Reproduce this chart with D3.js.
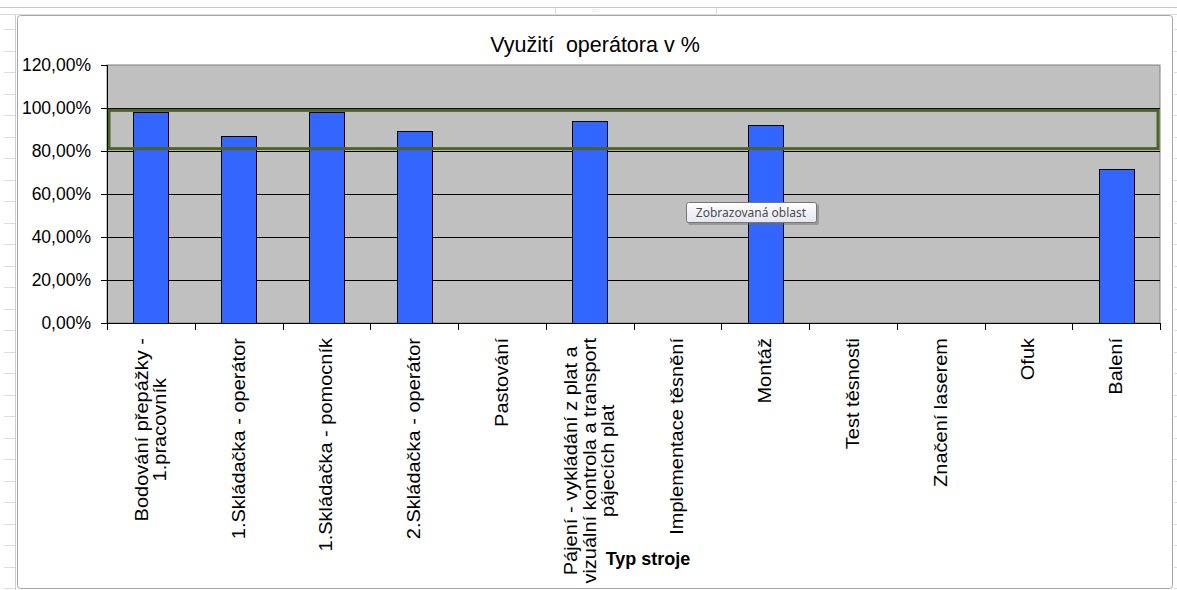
<!DOCTYPE html>
<html>
<head>
<meta charset="utf-8">
<script src="https://cdn.jsdelivr.net/npm/d3@7"></script>
<style>
  body { margin: 0; background: #fff; }
  svg { display: block; font-family: "Liberation Sans", Arial, sans-serif; }
</style>
</head>
<body>
<div id="chart"></div>
<script>
// data
var categories = [
  ["Bodování přepážky -", "1.pracovník"],
  ["1.Skládačka - operátor"],
  ["1.Skládačka - pomocník"],
  ["2.Skládačka - operátor"],
  ["Pastování"],
  ["Pájení - vykládání z plat a", "vizuální kontrola a transport", "pájecích plat"],
  ["Implementace těsnění"],
  ["Montáž"],
  ["Test těsnosti"],
  ["Značení laserem"],
  ["Ofuk"],
  ["Balení"]
];
var values = [98.1, 86.8, 98.1, 89.3, 0, 94.0, 0, 92.0, 0, 0, 0, 71.8];
var yTicks = [0, 20, 40, 60, 80, 100, 120];
var band = [81.1, 98.9];   // "Zobrazovaná oblast" outline
var chartTitle = "Využití  operátora v %";
var xTitle = "Typ stroje";
var tipText = "Zobrazovaná oblast";

var W = 1177, H = 590;
var margin = {top: 65, right: 17, bottom: 267, left: 107},
    width = W - margin.left - margin.right,
    height = H - margin.top - margin.bottom;

var svg = d3.select("#chart").append("svg")
    .attr("width", W)
    .attr("height", H);

// excel sheet behind the chart
var sheet = svg.append("g").attr("stroke", "#dcdcdc").attr("stroke-width", 1);
sheet.append("line").attr("x1", 0).attr("x2", W).attr("y1", 7.5).attr("y2", 7.5).attr("stroke", "#c8c8c8");
sheet.append("line").attr("x1", 0).attr("x2", W).attr("y1", 14.5).attr("y2", 14.5);
[555.5, 716.5].forEach(function(x) {
  sheet.append("line").attr("x1", x).attr("x2", x).attr("y1", 8).attr("y2", 15);
});
d3.range(29, H, 21.5).forEach(function(y) {
  sheet.append("line").attr("x1", 4).attr("x2", 15).attr("y1", Math.round(y) + 0.5).attr("y2", Math.round(y) + 0.5);
  sheet.append("line").attr("x1", 1174).attr("x2", W).attr("y1", Math.round(y) + 0.5).attr("y2", Math.round(y) + 0.5);
});
sheet.append("line").attr("x1", 15.5).attr("x2", 15.5).attr("y1", 15).attr("y2", H).attr("stroke", "#cfcfcf");
sheet.append("text").attr("x", 595).attr("y", 12).attr("text-anchor", "middle")
  .attr("font-size", 6).attr("fill", "#aaa").attr("stroke", "none").text("::::");

// chart area
svg.append("rect")
  .attr("x", 17.5).attr("y", 15.5)
  .attr("width", 1155).attr("height", 573)
  .attr("rx", 3)
  .attr("fill", "#fff")
  .attr("stroke", "#a6a6a6");

svg.append("text")
  .attr("x", 595).attr("y", 52)
  .attr("text-anchor", "middle")
  .attr("font-size", 21.5)
  .attr("fill", "#000")
  .style("white-space", "pre")
  .text(chartTitle);

var g = svg.append("g")
  .attr("transform", "translate(" + margin.left + "," + margin.top + ")");

var x = d3.scaleBand()
  .domain(d3.range(categories.length))
  .range([0, width])
  .paddingInner(0).paddingOuter(0);

var y = d3.scaleLinear()
  .domain([0, 120])
  .range([height, 0]);

var fmt = d3.formatLocale({decimal: ",", thousands: " ", grouping: [3], currency: ["", ""]}).format(".2f");

// plot background
g.append("rect")
  .attr("width", width).attr("height", height)
  .attr("fill", "#c0c0c0")
  .attr("stroke", "#808080");

// gridlines
g.append("g").selectAll("line")
  .data(yTicks.filter(function(d) { return d > 0 && d < 120; }))
  .join("line")
    .attr("x1", 0).attr("x2", width)
    .attr("y1", function(d) { return Math.round(y(d)) + 0.5; })
    .attr("y2", function(d) { return Math.round(y(d)) + 0.5; })
    .attr("stroke", "#000");

// bars
var bw = x.bandwidth() * 0.4;
g.append("g").selectAll("rect")
  .data(values)
  .join("rect")
    .attr("x", function(d, i) { return Math.round(x(i) + (x.bandwidth() - bw) / 2) + 0.5; })
    .attr("y", function(d) { return Math.round(y(d)) + 0.5; })
    .attr("width", Math.round(bw))
    .attr("height", function(d) { return Math.round(y(0)) - Math.round(y(d)); })
    .attr("fill", "#3366ff")
    .attr("stroke", "#000")
    .style("display", function(d) { return d > 0 ? null : "none"; });

// highlighted band
g.append("rect")
  .attr("x", 2).attr("y", y(band[1]))
  .attr("width", width - 4)
  .attr("height", y(band[0]) - y(band[1]))
  .attr("fill", "none")
  .attr("stroke", "#4f6228")
  .attr("stroke-width", 3);

// y axis
var yAxis = g.append("g")
  .call(d3.axisLeft(y).tickValues(yTicks).tickSize(6).tickPadding(10)
    .tickFormat(function(d) { return fmt(d) + "%"; }));
yAxis.select(".domain").attr("stroke", "#000").attr("d", "M0.5,0V" + height);
yAxis.selectAll("text").attr("font-size", 17.5).attr("fill", "#000")
  .attr("font-family", "Liberation Sans, Arial, sans-serif");
yAxis.selectAll("line").attr("stroke", "#000");

// x axis: ticks at category boundaries
var xa = g.append("g").attr("transform", "translate(0," + height + ")");
xa.append("line").attr("x1", 0).attr("x2", width).attr("y1", 0.5).attr("y2", 0.5).attr("stroke", "#000");
xa.selectAll("line.tick")
  .data(d3.range(categories.length + 1))
  .join("line")
    .attr("class", "tick")
    .attr("x1", function(i) { return Math.round(i < categories.length ? x(i) : width) + 0.5; })
    .attr("x2", function(i) { return Math.round(i < categories.length ? x(i) : width) + 0.5; })
    .attr("y1", 0).attr("y2", 7)
    .attr("stroke", "#000");

// rotated category labels, multi-line centred
var lh = 18.5;
categories.forEach(function(lines, i) {
  var cx = x(i) + x.bandwidth() / 2;
  var lg = xa.append("g");
  var texts = lg.selectAll("text").data(lines).join("text")
    .attr("font-size", 20)
    .attr("fill", "#000")
    .attr("text-anchor", "middle")
    .text(function(d) { return d; });
  var maxW = d3.max(texts.nodes(), function(n) { return n.getComputedTextLength(); });
  var n = lines.length;
  texts.attr("transform", function(d, k) {
    var off = (k - (n - 1) / 2) * lh;
    return "translate(" + (cx + off + 6) + "," + (15 + maxW / 2) + ") rotate(-90) scale(1,0.88)";
  });
});

svg.append("text")
  .attr("x", 648).attr("y", 565)
  .attr("text-anchor", "middle")
  .attr("font-size", 18)
  .attr("font-weight", "bold")
  .attr("fill", "#000")
  .text(xTitle);

// tooltip
var tip = svg.append("g").attr("transform", "translate(686,202)");
var grad = svg.append("defs").append("linearGradient")
  .attr("id", "tipg").attr("x1", 0).attr("x2", 0).attr("y1", 0).attr("y2", 1);
grad.append("stop").attr("offset", 0).attr("stop-color", "#ffffff");
grad.append("stop").attr("offset", 1).attr("stop-color", "#e4e5f0");
tip.append("rect").attr("x", 2).attr("y", 2).attr("width", 131).attr("height", 21)
  .attr("rx", 2).attr("fill", "#6b6b6b").attr("opacity", 0.45);
tip.append("rect").attr("x", 0.5).attr("y", 0.5).attr("width", 130).attr("height", 20)
  .attr("rx", 2).attr("fill", "url(#tipg)").attr("stroke", "#767676");
tip.append("text").attr("x", 65).attr("y", 15)
  .attr("text-anchor", "middle")
  .attr("font-family", "Noto Sans, DejaVu Sans, sans-serif")
  .attr("font-size", 12)
  .attr("fill", "#4c4c4c")
  .text(tipText);
</script>
</body>
</html>
